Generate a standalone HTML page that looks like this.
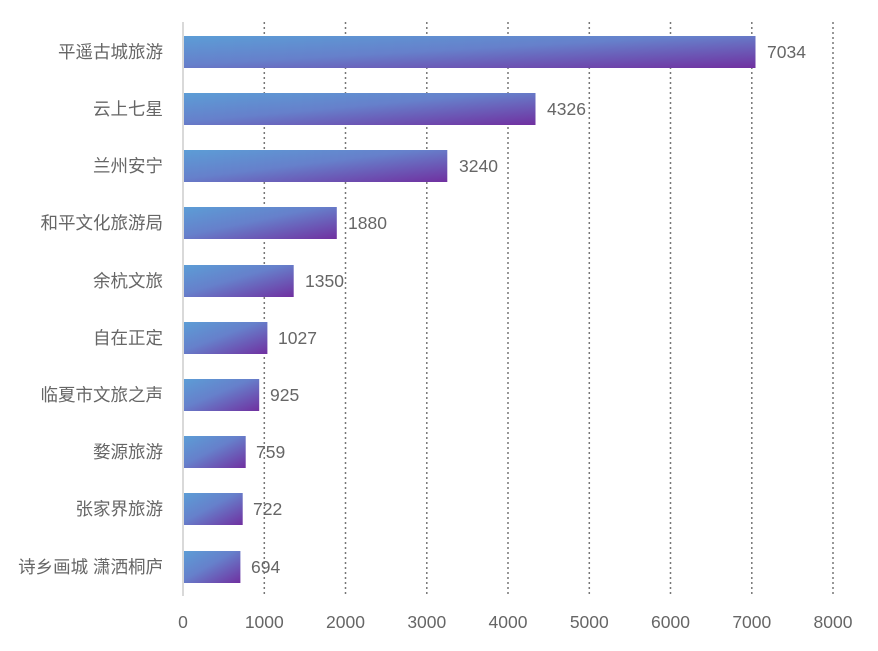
<!DOCTYPE html><html><head><meta charset="utf-8"><style>body{margin:0;background:#fff}svg text{font-family:"Liberation Sans","Noto Sans CJK SC",sans-serif;fill:#666;font-size:17.5px}</style></head><body>
<svg width="878" height="646" xmlns="http://www.w3.org/2000/svg">
<defs><linearGradient id="g" x1="0" y1="0" x2="1" y2="1"><stop offset="0" stop-color="#5c9dd6"/><stop offset="0.45" stop-color="#6680cb"/><stop offset="1" stop-color="#7030a0"/></linearGradient></defs>
<g stroke="#777" stroke-width="1.5" stroke-dasharray="2,3">
<line x1="264.3" y1="22" x2="264.3" y2="596"/><line x1="345.5" y1="22" x2="345.5" y2="596"/><line x1="426.8" y1="22" x2="426.8" y2="596"/><line x1="508" y1="22" x2="508" y2="596"/><line x1="589.3" y1="22" x2="589.3" y2="596"/><line x1="670.5" y1="22" x2="670.5" y2="596"/><line x1="751.8" y1="22" x2="751.8" y2="596"/><line x1="833" y1="22" x2="833" y2="596"/>
</g>
<line x1="183" y1="22" x2="183" y2="596" stroke="#d9d9d9" stroke-width="2"/>
<g fill="url(#g)">
<rect x="184" y="36" width="571.5" height="32"/>
<rect x="184" y="93" width="351.5" height="32"/>
<rect x="184" y="150" width="263.3" height="32"/>
<rect x="184" y="207" width="152.8" height="32"/>
<rect x="184" y="265" width="109.7" height="32"/>
<rect x="184" y="322" width="83.4" height="32"/>
<rect x="184" y="379" width="75.2" height="32"/>
<rect x="184" y="436" width="61.7" height="32"/>
<rect x="184" y="493" width="58.7" height="32"/>
<rect x="184" y="551" width="56.4" height="32"/>
</g>
<g text-anchor="end">
<text x="163" y="58">平遥古城旅游</text><text x="163" y="115">云上七星</text><text x="163" y="172">兰州安宁</text><text x="163" y="229">和平文化旅游局</text><text x="163" y="287">余杭文旅</text><text x="163" y="344">自在正定</text><text x="163" y="401">临夏市文旅之声</text><text x="163" y="458">婺源旅游</text><text x="163" y="515">张家界旅游</text><text x="163" y="573">诗乡画城 潇洒桐庐</text>
</g>
<g style="font-size:18px">
<text x="767" y="58">7034</text><text x="547" y="115">4326</text><text x="459" y="172">3240</text><text x="348" y="229">1880</text><text x="305" y="287">1350</text><text x="278" y="344">1027</text><text x="270" y="401">925</text><text x="256" y="458">759</text><text x="253" y="515">722</text><text x="251" y="573">694</text>
</g>
<g text-anchor="middle" style="fill:#888;font-size:18px">
<text x="183" y="628">0</text><text x="264.3" y="628">1000</text><text x="345.5" y="628">2000</text><text x="426.8" y="628">3000</text><text x="508" y="628">4000</text><text x="589.3" y="628">5000</text><text x="670.5" y="628">6000</text><text x="751.8" y="628">7000</text><text x="833" y="628">8000</text>
</g>
</svg></body></html>
